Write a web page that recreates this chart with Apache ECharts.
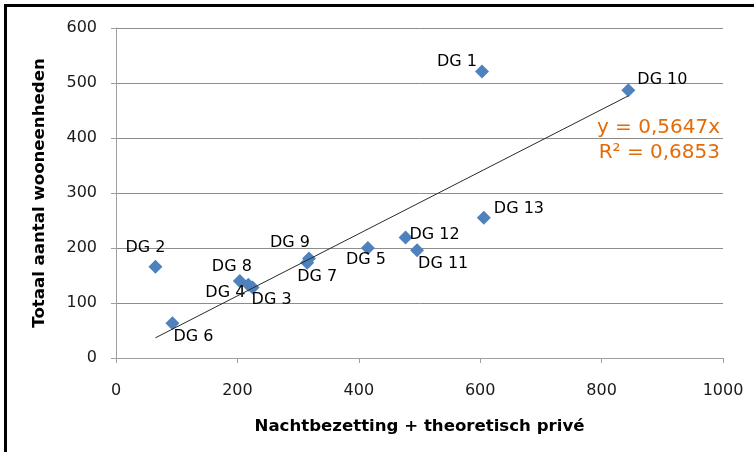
<!DOCTYPE html>
<html>
<head>
<meta charset="utf-8">
<style>
  html, body { margin: 0; padding: 0; background: #fff; }
  #chart { width: 754px; height: 452px; }
</style>
<script src="https://cdn.jsdelivr.net/npm/echarts@6/dist/echarts.min.js"></script>
</head>
<body>
<div id="chart"></div>
<script>
// Dwellings per DG: night occupancy + theoretical private (x) vs total housing units (y)
const names = ['DG 1', 'DG 2', 'DG 3', 'DG 4', 'DG 5', 'DG 6', 'DG 7', 'DG 8', 'DG 9', 'DG 10', 'DG 11', 'DG 12', 'DG 13'];
const xValues = [603, 65, 225, 218, 415, 93, 315, 204, 318, 844, 496, 477, 606];
const yValues = [521, 166, 128, 133, 200, 63, 173, 140, 181, 487, 196, 219, 255];
const xTicks = [0, 200, 400, 600, 800, 1000];
const yTicks = [0, 100, 200, 300, 400, 500, 600];
const trendSlope = 0.5647;
const trendR2 = 0.6853;

// Label placement per point: [align, dx, dy] relative to the marker centre
const labelPlace = {
  'DG 1': ['right', -5, -10],
  'DG 2': ['center', -10, -19],
  'DG 3': ['left', -1, 12],
  'DG 4': ['right', -3, 8],
  'DG 5': ['center', -2, 12],
  'DG 6': ['left', 1, 13],
  'DG 7': ['center', 10, 14],
  'DG 8': ['center', -8, -14],
  'DG 9': ['right', 1, -16],
  'DG 10': ['left', 9, -10],
  'DG 11': ['left', 1, 14],
  'DG 12': ['left', 4, -3],
  'DG 13': ['left', 10, -9]
};

const FONT = '"DejaVu Sans", Verdana, sans-serif';

const points = names.map((n, i) => {
  const p = labelPlace[n];
  return {
    name: n,
    value: [xValues[i], yValues[i]],
    label: { align: p[0], offset: [p[1], p[2]] }
  };
});

const xMin = Math.min(...xValues);
const xMax = Math.max(...xValues);
const trendData = [[xMin, trendSlope * xMin], [xMax, trendSlope * xMax]];

const fmt = v => v.toFixed(4).replace('.', ',');

const chart = echarts.init(document.getElementById('chart'), null, { renderer: 'canvas' });
chart.setOption({
  animation: false,
  backgroundColor: '#ffffff',
  grid: { left: 116, top: 28, width: 607, height: 330 },
  xAxis: {
    type: 'value',
    min: xTicks[0], max: xTicks[xTicks.length - 1], interval: xTicks[1] - xTicks[0],
    name: 'Nachtbezetting + theoretisch privé',
    nameLocation: 'middle', nameGap: 60,
    nameTextStyle: { fontFamily: FONT, fontWeight: 'bold', fontSize: 16.6, color: '#000' },
    axisLine: { show: true, onZero: false, lineStyle: { color: '#a0a0a0', width: 1 } },
    axisTick: { show: true, length: 5, lineStyle: { color: '#a0a0a0' } },
    axisLabel: { fontFamily: FONT, fontSize: 16, color: '#1a1a1a', margin: 25, formatter: v => String(v) },
    splitLine: { show: false }
  },
  yAxis: {
    type: 'value',
    min: yTicks[0], max: yTicks[yTicks.length - 1], interval: yTicks[1] - yTicks[0],
    name: 'Totaal aantal wooneenheden',
    nameLocation: 'middle', nameGap: 68,
    nameTextStyle: { fontFamily: FONT, fontWeight: 'bold', fontSize: 16.6, color: '#000' },
    axisLine: { show: true, onZero: false, lineStyle: { color: '#a0a0a0', width: 1 } },
    axisTick: { show: true, length: 5, lineStyle: { color: '#a0a0a0' } },
    axisLabel: { fontFamily: FONT, fontSize: 16, color: '#1a1a1a', margin: 19, formatter: v => String(v) },
    splitLine: { show: true, lineStyle: { color: '#8c8c8c', width: 1 } }
  },
  series: [
    {
      type: 'scatter',
      data: points,
      symbol: 'diamond',
      symbolSize: 14,
      itemStyle: { color: '#4f81bd', opacity: 1 },
      label: {
        show: true,
        position: 'inside',
        verticalAlign: 'middle',
        formatter: p => p.name,
        fontFamily: FONT, fontSize: 16, color: '#000'
      },
      z: 2
    },
    {
      type: 'line',
      data: trendData,
      symbol: 'none',
      lineStyle: { color: '#2a2a2a', width: 1 },
      silent: true,
      z: 3
    }
  ],
  graphic: [
    { type: 'line', shape: { x1: 4, y1: 5.5, x2: 754, y2: 5.5 }, style: { stroke: '#000', lineWidth: 3 } },
    { type: 'line', shape: { x1: 5.5, y1: 4, x2: 5.5, y2: 452 }, style: { stroke: '#000', lineWidth: 3 } },
    {
      type: 'text', right: 34, top: 118,
      style: { text: 'y = ' + fmt(trendSlope) + 'x', font: '20px ' + FONT, fill: '#e36c0a', textAlign: 'right' }
    },
    {
      type: 'text', right: 34, top: 143,
      style: { text: 'R² = ' + fmt(trendR2), font: '20px ' + FONT, fill: '#e36c0a', textAlign: 'right' }
    }
  ]
});
</script>
</body>
</html>
